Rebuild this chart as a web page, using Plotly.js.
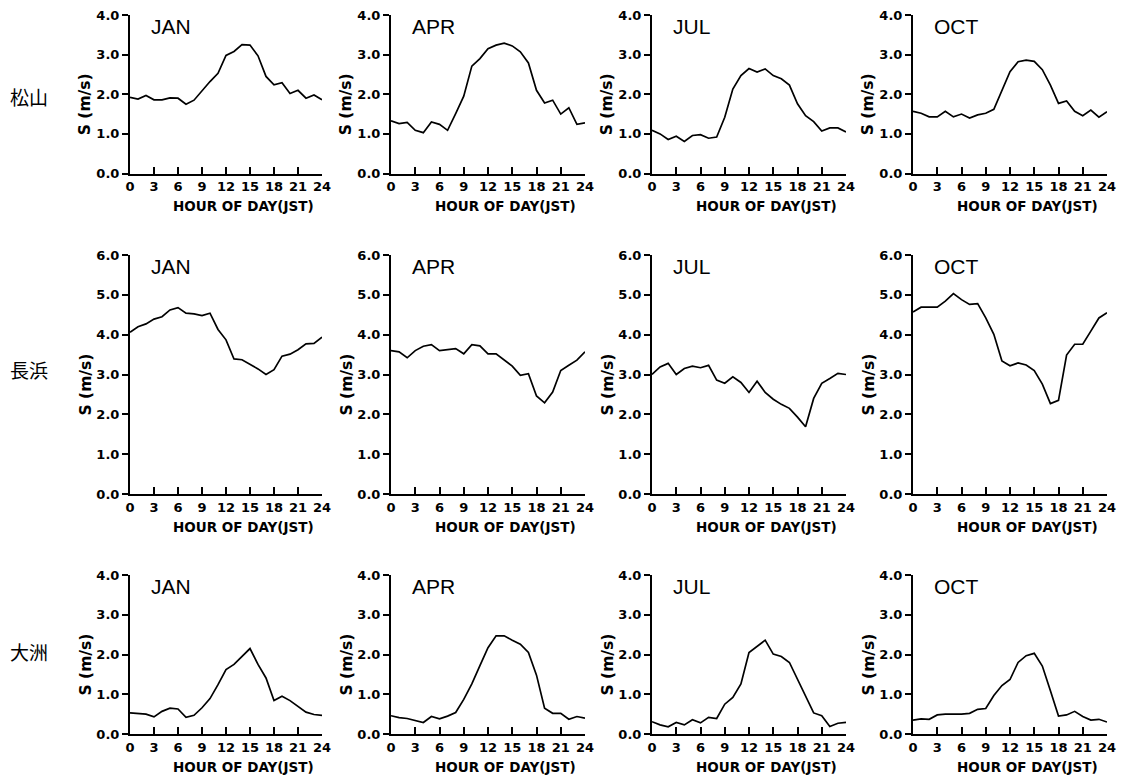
<!DOCTYPE html>
<html><head><meta charset="utf-8">
<script src="https://cdn.plot.ly/plotly-3.0.1.min.js"></script>
<style>html,body{margin:0;padding:0;background:#fff;}#chart{width:1127px;height:784px;}</style>
</head><body><div id="chart"></div>
<script>
const hours = [0,1,2,3,4,5,6,7,8,9,10,11,12,13,14,15,16,17,18,19,20,21,22,23,24];
const stations = ["松山","長浜","大洲"];
const months = ["JAN","APR","JUL","OCT"];
const xTickVals = [0,3,6,9,12,15,18,21,24];
const xTickText = ["0","3","6","9","12","15","18","21","24"];
const yMaxByRow = [4,6,4];
const xTitle = "HOUR OF DAY(JST)";
const yTitle = "S (m/s)";

const matsuyamaJan = [1.92,1.88,1.97,1.86,1.86,1.91,1.90,1.75,1.85,2.10,2.32,2.53,2.98,3.08,3.25,3.24,2.97,2.45,2.24,2.29,2.02,2.10,1.90,1.98,1.86];
const matsuyamaApr = [1.33,1.26,1.29,1.09,1.03,1.30,1.24,1.09,1.51,1.95,2.71,2.90,3.15,3.24,3.29,3.22,3.07,2.79,2.10,1.78,1.85,1.50,1.66,1.24,1.28];
const matsuyamaJul = [1.09,1.00,0.86,0.94,0.81,0.96,0.98,0.89,0.92,1.42,2.13,2.47,2.65,2.56,2.64,2.47,2.39,2.23,1.76,1.46,1.31,1.07,1.15,1.15,1.05];
const matsuyamaOct = [1.57,1.52,1.43,1.43,1.57,1.43,1.50,1.40,1.48,1.52,1.62,2.10,2.57,2.82,2.86,2.83,2.62,2.23,1.77,1.83,1.57,1.46,1.60,1.42,1.56];
const nagahamaJan = [4.06,4.20,4.27,4.39,4.45,4.62,4.68,4.54,4.52,4.48,4.54,4.13,3.87,3.39,3.37,3.26,3.14,3.00,3.12,3.46,3.51,3.62,3.77,3.78,3.94];
const nagahamaApr = [3.60,3.57,3.42,3.60,3.71,3.75,3.60,3.62,3.65,3.52,3.75,3.72,3.52,3.52,3.36,3.21,2.98,3.02,2.46,2.29,2.56,3.10,3.23,3.36,3.57];
const nagahamaJul = [3.00,3.19,3.28,3.00,3.15,3.21,3.17,3.23,2.86,2.78,2.94,2.80,2.55,2.83,2.55,2.38,2.25,2.15,1.93,1.69,2.40,2.78,2.90,3.03,3.00];
const nagahamaOct = [4.57,4.69,4.69,4.69,4.84,5.03,4.88,4.76,4.78,4.42,4.01,3.34,3.22,3.29,3.24,3.10,2.76,2.27,2.35,3.49,3.76,3.76,4.09,4.42,4.55];
const ozuJan = [0.53,0.52,0.50,0.43,0.57,0.65,0.63,0.42,0.47,0.66,0.89,1.24,1.62,1.75,1.96,2.15,1.75,1.41,0.84,0.95,0.84,0.70,0.55,0.49,0.47];
const ozuApr = [0.46,0.41,0.39,0.34,0.29,0.44,0.38,0.45,0.54,0.87,1.26,1.72,2.17,2.47,2.47,2.36,2.26,2.05,1.48,0.65,0.52,0.52,0.37,0.44,0.40];
const ozuJul = [0.31,0.23,0.18,0.29,0.23,0.36,0.28,0.42,0.39,0.75,0.92,1.26,2.05,2.20,2.36,2.01,1.95,1.80,1.38,0.92,0.53,0.46,0.19,0.27,0.29];
const ozuOct = [0.35,0.38,0.37,0.48,0.50,0.50,0.50,0.52,0.62,0.64,0.97,1.22,1.37,1.80,1.97,2.03,1.71,1.09,0.45,0.48,0.57,0.44,0.35,0.37,0.30];

const seriesGrid = [
  [matsuyamaJan, matsuyamaApr, matsuyamaJul, matsuyamaOct],
  [nagahamaJan, nagahamaApr, nagahamaJul, nagahamaOct],
  [ozuJan, ozuApr, ozuJul, ozuOct]
];

const W = 1127, H = 784;
const colPx = [[130,322],[391,585],[652,846],[913,1107]];
const rowPx = [[15,173.5],[255,494],[575,734]];
const rowLabelY = [97,370,651];

const tickFont = {family: "DejaVu Sans", size: 13, weight: "bold", color: "#000"};
const traces = [];
const layout = {
  width: W, height: H,
  margin: {l:0, r:0, t:0, b:0, pad:0},
  paper_bgcolor: "#fff", plot_bgcolor: "#fff",
  showlegend: false,
  annotations: []
};

let idx = 0;
for (let r = 0; r < 3; r++) {
  for (let c = 0; c < 4; c++) {
    idx++;
    const sfx = idx === 1 ? "" : String(idx);
    const xa = "x" + sfx, ya = "y" + sfx;
    traces.push({
      x: hours, y: seriesGrid[r][c], xaxis: xa, yaxis: ya,
      type: "scatter", mode: "lines",
      line: {color: "#000", width: 1.7}, hoverinfo: "skip"
    });
    const yVals = [];
    for (let v = 0; v <= yMaxByRow[r]; v++) yVals.push(v);
    layout["xaxis" + sfx] = {
      domain: [colPx[c][0]/W, colPx[c][1]/W],
      anchor: ya, range: [0,24],
      showline: true, linecolor: "#000", linewidth: 2,
      showgrid: false, zeroline: false,
      ticks: "inside", ticklen: 7, tickwidth: 2, tickcolor: "#000",
      tickmode: "array", tickvals: xTickVals, ticktext: xTickText,
      tickfont: tickFont, fixedrange: true
    };
    layout["yaxis" + sfx] = {
      domain: [1 - rowPx[r][1]/H, 1 - rowPx[r][0]/H],
      anchor: xa, range: [0, yMaxByRow[r]],
      showline: true, linecolor: "#000", linewidth: 2,
      showgrid: false, zeroline: false,
      ticks: "outside", ticklen: 6, tickwidth: 2, tickcolor: "#000",
      tickmode: "array", tickvals: yVals, ticktext: yVals.map(v => v.toFixed(1)),
      tickfont: tickFont, fixedrange: true
    };
    layout.annotations.push({
      text: months[c], xref: xa + " domain", yref: ya + " domain",
      x: 0.1, y: 1, xanchor: "left", yanchor: "top", yshift: 2,
      showarrow: false, font: {family: "Liberation Sans", size: 21, color: "#000"}
    });
    layout.annotations.push({
      text: xTitle, xref: xa + " domain", yref: ya + " domain",
      x: 0.5, y: 0, xanchor: "center", yanchor: "middle", xshift: 17, yshift: -33,
      showarrow: false, font: {family: "DejaVu Sans", size: 13.5, weight: "bold", color: "#000"}
    });
    layout.annotations.push({
      text: yTitle, xref: xa + " domain", yref: ya + " domain",
      x: 0, y: 0.5, xanchor: "center", yanchor: "middle", xshift: -45, yshift: -10,
      textangle: -90,
      showarrow: false, font: {family: "DejaVu Sans", size: 15.5, weight: "bold", color: "#000"}
    });
  }
}
for (let r = 0; r < 3; r++) {
  layout.annotations.push({
    text: stations[r], xref: "paper", yref: "paper",
    x: 8/W, y: 1 - rowLabelY[r]/H, xanchor: "left", yanchor: "middle",
    showarrow: false, font: {family: "Noto Sans CJK JP", size: 19, color: "#000"}
  });
}

Plotly.newPlot("chart", traces, layout, {displayModeBar: false, staticPlot: true});
</script></body></html>
